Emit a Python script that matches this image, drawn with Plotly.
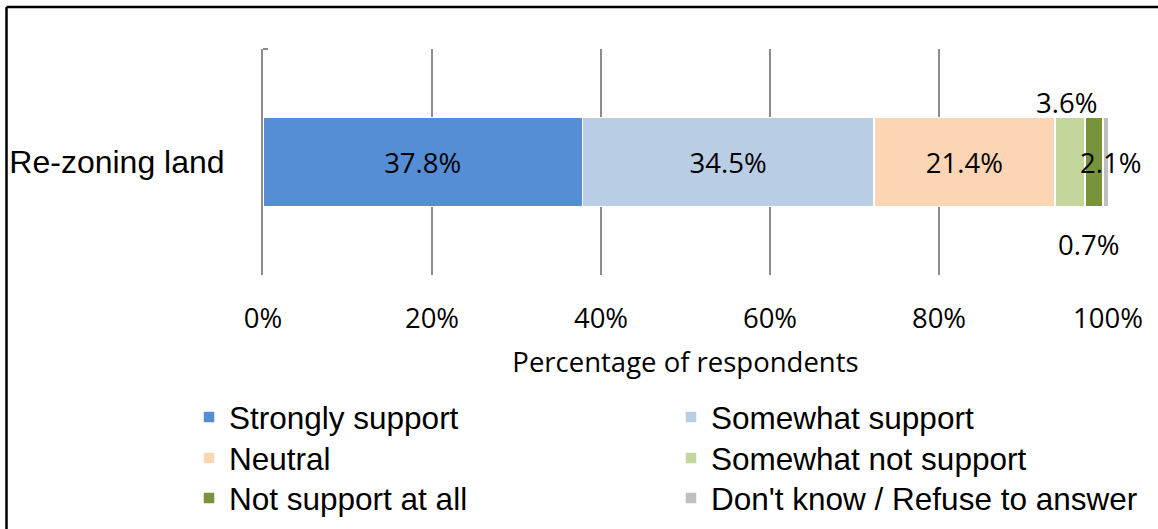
import plotly.graph_objects as go

categories = ["Re-zoning land"]
series_names = ["Strongly support", "Somewhat support", "Neutral",
                "Somewhat not support", "Not support at all", "Don't know / Refuse to answer"]
values = [37.8, 34.5, 21.4, 3.6, 2.1, 0.7]
colors = ["#558ED5", "#B9CDE5", "#FCD5B5", "#C3D69B", "#77933C", "#BFBFBF"]
tick_vals = [0, 20, 40, 60, 80, 100]
tick_text = ["0%", "20%", "40%", "60%", "80%", "100%"]

W, H = 1158, 529
L, R, T, B = 263, 50, 49, 254
pw, ph = W - L - R, H - T - B
NUM_FONT = "Open Sans, Lato, sans-serif"
TXT_FONT = "Liberation Sans, Arial, sans-serif"
NUM_SIZE = 27.5

# legend grid positions (pixels): two columns, three rows
leg_cols = [189, 671]
leg_rows = [417, 458, 498]
legend_ids = ["legend", "legend2", "legend3", "legend4", "legend5", "legend6"]

fig = go.Figure()
inside = [True, True, True, False, False, False]
for i, (name, v, c, ins) in enumerate(zip(series_names, values, colors, inside)):
    fig.add_trace(go.Bar(
        y=categories, x=[v], name=name, orientation="h",
        marker=dict(color=c, line=dict(color="white", width=1.5)),
        text=[f"{v}%"] if ins else None,
        textposition="inside", insidetextanchor="middle",
        textfont=dict(family=NUM_FONT, size=NUM_SIZE, color="black"),
        legend=legend_ids[i],
        hoverinfo="skip",
    ))

# small-segment labels
cum = 0
centers = []
for v in values:
    centers.append(cum + v / 2)
    cum += v
annos = [
    dict(x=centers[3], y=0, yshift=60, xshift=-3, text=f"{values[3]}%"),
    dict(x=centers[4], y=0, xshift=16, text=f"{values[4]}%"),
    dict(x=centers[5], y=0, yshift=-82, xshift=-17, text=f"{values[5]}%"),
]
for a in annos:
    a.update(xref="x", yref="y", showarrow=False,
             font=dict(family=NUM_FONT, size=NUM_SIZE, color="black"))
fig.update_layout(annotations=annos)

legends = {}
for i, lid in enumerate(legend_ids):
    legends[lid] = dict(
        orientation="v", xref="container", yref="container",
        x=leg_cols[i % 2] / W, xanchor="left",
        y=1 - leg_rows[i // 2] / H, yanchor="middle",
        font=dict(family=TXT_FONT, size=31.5, color="black"),
        itemwidth=30, bgcolor="rgba(0,0,0,0)", borderwidth=0,
    )

fig.update_layout(
    width=W, height=H,
    margin=dict(l=L, r=R, t=T, b=B, pad=0, autoexpand=False),
    paper_bgcolor="white", plot_bgcolor="white",
    barmode="stack", bargap=0.606,
    font=dict(family=TXT_FONT, color="black"),
    xaxis=dict(
        range=[0, 100], tickvals=tick_vals, ticktext=tick_text,
        showgrid=True, gridcolor="#8C8C8C", gridwidth=2,
        zeroline=False, showline=False, automargin=False,
        tickfont=dict(family=NUM_FONT, size=NUM_SIZE, color="black"),
        ticklabelstandoff=24,
        title=dict(text="Percentage of respondents", standoff=18,
                   font=dict(family=NUM_FONT, size=NUM_SIZE, color="black")),
        fixedrange=True,
    ),
    yaxis=dict(
        showline=True, linecolor="#8C8C8C", linewidth=2, automargin=False,
        ticks="", tickfont=dict(family=TXT_FONT, size=32, color="black"),
        ticklabelstandoff=30, showgrid=False, fixedrange=True,
    ),
    showlegend=True,
    **legends,
)

# outer border (left + top)
fig.add_shape(type="line", xref="paper", yref="paper",
              x0=(6.5 - L) / pw, x1=(W + 5 - L) / pw,
              y0=(H - B - 7) / ph, y1=(H - B - 7) / ph,
              line=dict(color="black", width=2.5))
fig.add_shape(type="line", xref="paper", yref="paper",
              x0=(6.5 - L) / pw, x1=(6.5 - L) / pw,
              y0=(H - B - 7) / ph, y1=(H - B - H - 10) / ph,
              line=dict(color="black", width=2.5))
# small top tick of category axis
fig.add_shape(type="line", xref="paper", yref="paper",
              x0=0, x1=(268 - L) / pw, y0=1, y1=1,
              line=dict(color="#8C8C8C", width=2))

fig.write_html("out.html")
